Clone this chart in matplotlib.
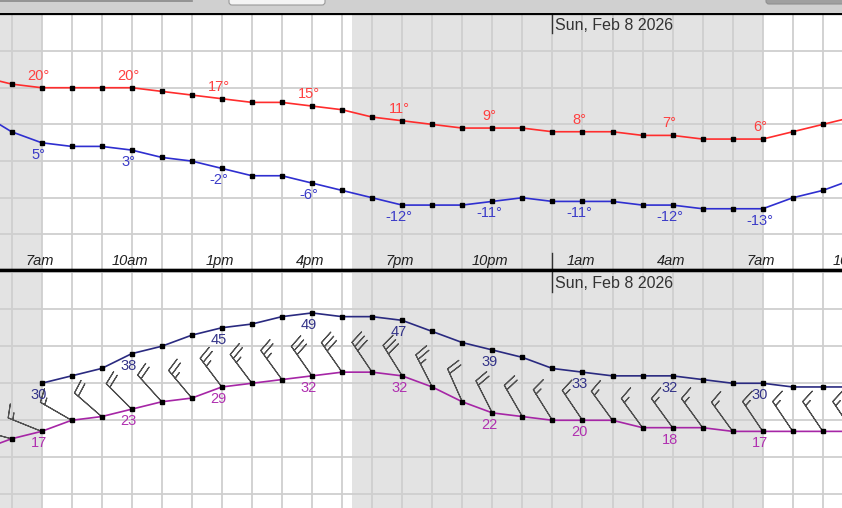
import numpy as np
import matplotlib.pyplot as plt
from matplotlib.patches import FancyBboxPatch, Rectangle

plt.rcParams['font.family'] = ['Liberation Sans', 'DejaVu Sans']

############################################################################
# data: one value per hour, hour 0 = 6am Sat
############################################################################

hours = np.arange(-1, 29)

temp = [23, 21, 20, 20, 20, 20, 19, 18, 17, 16, 16, 15, 14, 12, 11,
        10, 9, 9, 9, 8, 8, 8, 7, 7, 6, 6, 6, 8, 10, 12]
dew = [13, 8, 5, 4, 4, 3, 1, 0, -2, -4, -4, -6, -8, -10, -12,
       -12, -12, -11, -10, -11, -11, -11, -12, -12, -13, -13, -13, -10, -8, -5]

gust = [np.nan, np.nan, 30, 32, 34, 38, 40, 43, 45, 46, 48, 49, 48, 48, 47,
        44, 41, 39, 37, 34, 33, 32, 32, 32, 31, 30, 30, 29, 29, 29]
wind = [12, 15, 17, 20, 21, 23, 25, 26, 29, 30, 31, 32, 33, 33, 32,
        29, 25, 22, 21, 20, 20, 20, 18, 18, 18, 17, 17, 17, 17, 17]
wind_dir = [285, 285, 292, 300, 311, 315, 318, 320, 323, 323, 324, 325, 325, 326, 328,
            333, 336, 333, 330, 328, 326, 324, 324, 324, 324, 324, 326, 326, 326, 326]

tick_hours = np.arange(1, 29, 3)
tick_labels = ['7am', '10am', '1pm', '4pm', '7pm', '10pm', '1am', '4am', '7am', '10am']
night = [(-2, 1.0), (11.33, 25.0)]
midnight = 18
date_label = 'Sun, Feb 8 2026'

############################################################################
# layout (pixel based)
############################################################################

W, H = 842, 508
fig = plt.figure(figsize=(W / 100, H / 100), dpi=100)
x0, dx = 11.5, 30.05
xlim = ((0 - x0) / dx, (W - x0) / dx)

def frac(top, bottom):
    return [0, 1 - bottom / H, 1, (bottom - top) / H]

ax_t = fig.add_axes(frac(14, 270))
ax_b = fig.add_axes(frac(270, H))
chrome = fig.add_axes(frac(0, 13))

GRID = '#cfcfcf'
NIGHT = '#e3e3e3'

for ax in (ax_t, ax_b):
    ax.set_xticks(np.arange(-1, 30))
    ax.set_xlim(*xlim)
    ax.grid(True, color=GRID, linewidth=1.3)
    ax.set_axisbelow(True)
    ax.tick_params(length=0, labelbottom=False, labelleft=False)
    for a, b in night:
        ax.axvspan(a, b, color=NIGHT, zorder=0, lw=0)
    for s in ('left', 'right'):
        ax.spines[s].set_visible(False)

ax_t.set_yticks(np.arange(-20, 41, 10))
ax_t.set_ylim(-29.7, 40.1)
ax_t.spines['top'].set_linewidth(1.6)
ax_t.spines['bottom'].set_linewidth(2.4)
ax_b.set_yticks(np.arange(0, 61, 10))
ax_b.set_ylim(-3.7, 60.6)
ax_b.spines['top'].set_linewidth(2.4)
ax_b.spines['bottom'].set_visible(False)

############################################################################
# top: temperature and dew point
############################################################################

def series(ax, y, color, lab_color, dy, fmt):
    ax.plot(hours, y, color=color, lw=1.2, marker='s', ms=3.3,
            mfc='k', mec='k', zorder=4)
    for h in tick_hours:
        v = y[list(hours).index(h)]
        ax.annotate(fmt.format(v), xy=(h, v), xytext=(-3, dy),
                    textcoords='offset pixels', ha='center', va='center',
                    color=lab_color, fontsize=10.5, zorder=5)

series(ax_t, temp, '#ff2d2d', '#ff4040', 12, '{}°')
series(ax_t, dew, '#2f2fd0', '#3b3bc8', -12, '{}°')

for h, lab in zip(tick_hours, tick_labels):
    ax_t.annotate(lab, xy=(h, 0), xycoords=('data', 'axes fraction'),
                  xytext=(-2, 9), textcoords='offset pixels', ha='center',
                  va='center', style='italic', fontsize=10.5, color='#202020',
                  annotation_clip=False)

ax_t.axvline(midnight, 1 - 19 / 256, 1, color='#333333', lw=1)
ax_t.axvline(midnight, 0, 17 / 256, color='#333333', lw=1)
ax_t.annotate(date_label, xy=(midnight, 1), xycoords=('data', 'axes fraction'),
              xytext=(3, -11), textcoords='offset pixels', va='center',
              fontsize=11.5, color='#333333')

############################################################################
# bottom: wind gust, wind speed and barbs
############################################################################

spd = np.array(wind, dtype=float)
rad = np.deg2rad(wind_dir)
kt = spd * 0.869
u = -kt * np.sin(rad)
v = -kt * np.cos(rad)
ax_b.barbs(hours, spd, u, v, length=7.2, color='#505050', linewidth=0.8,
           sizes=dict(spacing=0.14, height=0.38, width=0.18), zorder=3)

series(ax_b, gust, '#2a2a80', '#333388', -12, '{:.0f}')
series(ax_b, wind, '#a626a6', '#b030b0', -12, '{}')

ax_b.axvline(midnight, 1 - 22 / 238, 1, color='#333333', lw=1)
ax_b.annotate(date_label, xy=(midnight, 1), xycoords=('data', 'axes fraction'),
              xytext=(3, -14), textcoords='offset pixels', va='center',
              fontsize=11.5, color='#333333')

############################################################################
# window chrome strip at the top
############################################################################

chrome.set_xlim(0, W)
chrome.set_ylim(13, 0)
chrome.axis('off')
chrome.add_patch(Rectangle((0, 0), W, 13, color='#d0d0d0', zorder=0))
chrome.plot([0, 192], [0.5, 0.5], color='#888888', lw=1.2)
chrome.add_patch(FancyBboxPatch((229, -6), 96, 11, boxstyle='round,pad=0,rounding_size=3',
                                fc='#f4f4f4', ec='#9a9a9a', lw=0.8))
chrome.add_patch(FancyBboxPatch((766, -6), 90, 10, boxstyle='round,pad=0,rounding_size=3',
                                fc='#a0a0a0', ec='#909090', lw=0.8))

fig.savefig('out.png', dpi=100)
